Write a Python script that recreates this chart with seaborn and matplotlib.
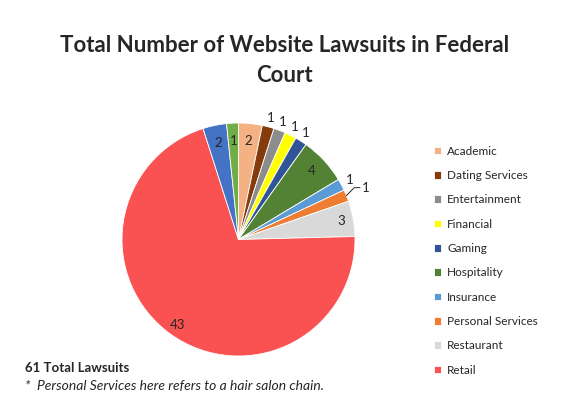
import numpy as np
import matplotlib
matplotlib.use("Agg")
import matplotlib.pyplot as plt
import seaborn as sns

# ---- data ----
categories = ["Academic", "Dating Services", "Entertainment", "Financial", "Gaming",
              "Hospitality", "Insurance", "Personal Services", "Restaurant", "Retail",
              "Other B", "Other A"]
counts = [2, 1, 1, 1, 1, 4, 1, 1, 3, 43, 2, 1]
colors = ["#F4B183", "#843C0C", "#8C8C8C", "#FFFF00", "#2F5597", "#548235",
          "#5B9BD5", "#ED7D31", "#D9D9D9", "#FA5252", "#4472C4", "#70AD47"]
n_legend = 10

# radial position of each value label (fraction of radius)
label_r = [0.85, 1.08, 1.08, 1.08, 1.08, 0.86, 1.08, 1.18, 0.9, 0.9, 0.85, 0.85]

sns.set_style("white")
plt.rcParams["font.family"] = ["Lato", "DejaVu Sans"]

W, H = 569, 403
fig = plt.figure(figsize=(W / 100, H / 100), dpi=100)
cx, cy, rad = 238.5, 239.5, 116.5
ax = fig.add_axes([(cx - rad) / W, (H - cy - rad) / H, 2 * rad / W, 2 * rad / H])

wedges, _ = ax.pie(counts, colors=colors, startangle=90, counterclock=False,
                   radius=1.0, wedgeprops=dict(edgecolor="white", linewidth=0.6))
ax.set_xlim(-1, 1)
ax.set_ylim(-1, 1)
ax.set_aspect("equal")
ax.axis("off")

for w, v, r, name in zip(wedges, counts, label_r, categories):
    mid = np.deg2rad((w.theta1 + w.theta2) / 2)
    x, y = r * np.cos(mid), r * np.sin(mid)
    if name == "Personal Services":
        ex, ey = 1.0 * np.cos(mid), 1.0 * np.sin(mid)
        ax.plot([ex, x - 0.1, x - 0.05], [ey, y, y], color="black", lw=0.6, clip_on=False)
    ax.text(x, y, str(v), ha="center", va="center", fontsize=9.5, clip_on=False)

fig.text(0.5, 1 - 46 / H, "Total Number of Website Lawsuits in Federal",
         ha="center", va="center", fontsize=16, fontweight="bold")
fig.text(0.5, 1 - 75 / H, "Court", ha="center", va="center",
         fontsize=16, fontweight="bold")

leg = fig.legend(wedges[:n_legend], categories[:n_legend], loc="upper left",
                 bbox_to_anchor=(423 / W, 1 - 135 / H), frameon=False,
                 fontsize=8.5, handlelength=0.65, handleheight=0.65,
                 handletextpad=0.5, labelspacing=1.13)

fig.text(25 / W, 1 - 368 / H, "61 Total Lawsuits", ha="left", va="center",
         fontsize=9.5, fontweight="bold")
fig.text(25 / W, 1 - 386 / H, "*  Personal Services here refers to a hair salon chain.",
         ha="left", va="center", fontsize=10, style="italic")

fig.savefig("out.png", dpi=100)
